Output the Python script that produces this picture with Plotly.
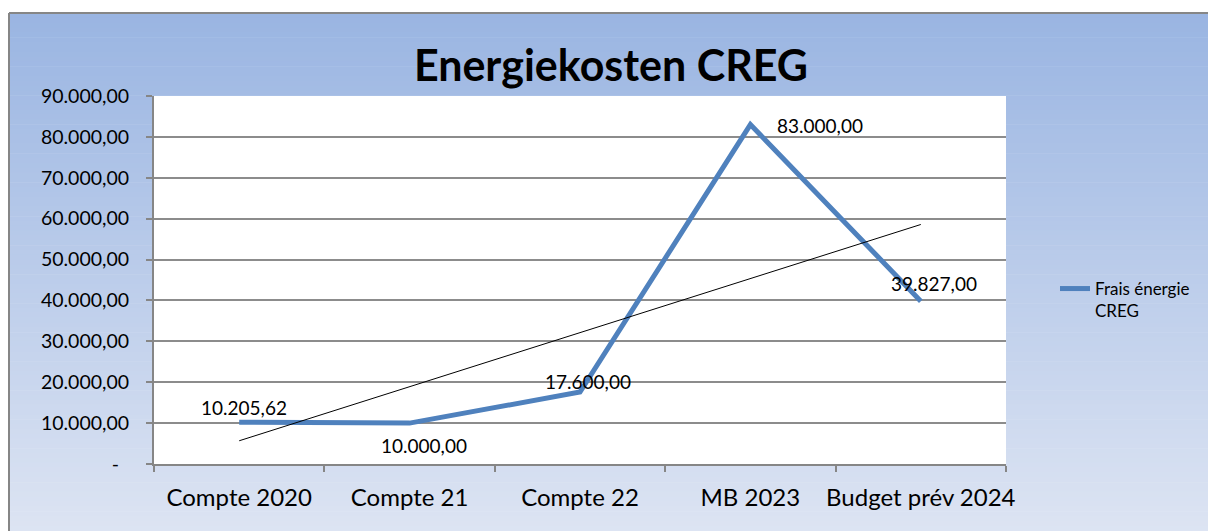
import plotly.graph_objects as go
import numpy as np

categories = ["Compte 2020", "Compte 21", "Compte 22", "MB 2023", "Budget prév 2024"]
values = [10205.62, 10000.00, 17600.00, 83000.00, 39827.00]
value_labels = ["10.205,62", "10.000,00", "17.600,00", "83.000,00", "39.827,00"]
series_name = "Frais énergie<br>CREG"
title_text = "Energiekosten CREG"
y_tickvals = [0, 10000, 20000, 30000, 40000, 50000, 60000, 70000, 80000, 90000]
y_ticktext = ["-\u00a0\u00a0", "10.000,00", "20.000,00", "30.000,00", "40.000,00", "50.000,00",
              "60.000,00", "70.000,00", "80.000,00", "90.000,00"]

W, H = 1208, 531
L, R, T, B = 154, 1006, 96, 464

# linear trendline (least squares) over category index
xi = np.arange(1, len(values) + 1)
slope, intercept = np.polyfit(xi, values, 1)
trend = slope * xi + intercept

FONT = "Lato"

fig = go.Figure()
fig.add_trace(go.Scatter(
    x=categories, y=values, mode="lines", name=series_name,
    line=dict(color="#4F81BD", width=5),
    cliponaxis=False,
))
fig.add_trace(go.Scatter(
    x=categories, y=trend, mode="lines", showlegend=False,
    line=dict(color="#000000", width=1),
))

# data labels (offsets in pixels: right, up)
label_shifts = [(5, 15), (14, -22), (8, 11), (70, -1), (13, 18)]
annotations = []
for cat, v, txt, (dx, dy) in zip(categories, values, value_labels, label_shifts):
    annotations.append(dict(x=cat, y=v, xref="x", yref="y", text=txt, showarrow=False,
                            xanchor="center", yanchor="middle", xshift=dx, yshift=dy,
                            font=dict(family=FONT, size=19, color="#000000")))

def px2x(p):
    return (p - L) / (R - L)

def py2y(p):
    return (B - p) / (B - T)

shapes = []
# gradient background via stripes
top_c = np.array([154, 181, 226])
bot_c = np.array([222, 229, 243])
y0p, y1p = 13, 545
n = 110
edges = np.linspace(y0p, y1p, n + 1)
for i in range(n):
    f = i / (n - 1)
    c = (top_c + (bot_c - top_c) * f).round().astype(int)
    shapes.append(dict(type="rect", xref="paper", yref="paper", layer="below",
                       x0=px2x(9), x1=px2x(1230), y0=py2y(edges[i]), y1=py2y(edges[i + 1] + 0.6),
                       line=dict(width=0), fillcolor=f"rgb({c[0]},{c[1]},{c[2]})"))
# plot area white
shapes.append(dict(type="rect", xref="paper", yref="paper", layer="below",
                   x0=0, x1=1, y0=0, y1=1, line=dict(width=0), fillcolor="white"))
# outer border top and left
shapes.append(dict(type="line", xref="paper", yref="paper", layer="above",
                   x0=px2x(9), x1=px2x(1230), y0=py2y(13), y1=py2y(13),
                   line=dict(color="#868686", width=2)))
shapes.append(dict(type="line", xref="paper", yref="paper", layer="above",
                   x0=px2x(9), x1=px2x(9), y0=py2y(13), y1=py2y(545),
                   line=dict(color="#868686", width=2)))

fig.update_layout(
    width=W, height=H,
    margin=dict(l=L, r=W - R, t=T, b=H - B, autoexpand=False),
    paper_bgcolor="white", plot_bgcolor="rgba(0,0,0,0)",
    shapes=shapes,
    annotations=annotations,
    title=dict(text=f"<b>{title_text}</b>", x=611 / W, xref="container", xanchor="center",
               y=1 - 66 / H, yref="container", yanchor="middle",
               font=dict(family=FONT, size=43, color="#000000"), automargin=False),
    xaxis=dict(type="category", tickson="boundaries", showgrid=False,
               range=[-0.5, len(categories) - 0.5],
               showline=True, linecolor="#868686", linewidth=2,
               ticks="outside", ticklen=6, tickcolor="#868686", tickwidth=2,
               tickangle=0, automargin=False,
               tickfont=dict(family=FONT, size=24, color="#000000"),
               ticklabelstandoff=11, fixedrange=True),
    yaxis=dict(range=[0, 90000], tickvals=y_tickvals, ticktext=y_ticktext,
               showgrid=True, gridcolor="#8C8C8C", gridwidth=1.5,
               showline=True, linecolor="#868686", linewidth=2,
               ticks="outside", ticklen=6, tickcolor="#868686", tickwidth=2,
               automargin=False,
               tickfont=dict(family=FONT, size=19.5, color="#000000"),
               ticklabelstandoff=13, zeroline=False, fixedrange=True),
    legend=dict(x=px2x(1055), y=py2y(300), xanchor="left", yanchor="middle", valign="top",
                bgcolor="rgba(0,0,0,0)", font=dict(family=FONT, size=17, color="#000000"),
                itemwidth=30),
    showlegend=True,
)

fig.write_html(
    "out.html",
    config={"displayModeBar": False},
    post_script="document.body.style.margin='0';document.body.style.overflow='hidden';",
)
